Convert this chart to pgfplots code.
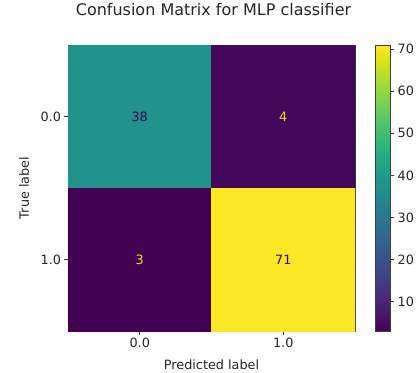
\documentclass[border=0pt]{standalone}
\usepackage{pgfplots}
\pgfplotsset{compat=1.18}
\usepackage{fontspec}
\setmainfont{DejaVu Sans}
\definecolor{vdark}{RGB}{68,1,84}
\definecolor{vyellow}{RGB}{253,231,37}
\definecolor{framegray}{RGB}{60,60,60}
\definecolor{txtgray}{RGB}{38,38,38}
\newcommand{\fs}{\fontsize{12.8}{15}\selectfont}
\begin{document}
\begin{tikzpicture}
\useasboundingbox (0,0) rectangle (417pt,372pt);
\begin{axis}[
  at={(68pt,41pt)}, anchor=south west,
  scale only axis, width=287pt, height=286pt,
  xmin=-0.5, xmax=1.5, ymin=-0.5, ymax=1.5,
  y dir=reverse,
  xtick={0,1}, xticklabels={0.0,1.0},
  ytick={0,1}, yticklabels={0.0,1.0},
  tick align=outside, major tick length=3.5pt,
  xtick pos=bottom, ytick pos=left,
  tick style={framegray, line width=0.8pt},
  axis line style={framegray, line width=0.8pt},
  ticklabel style={font=\fs, text=txtgray},
  xlabel={Predicted label}, ylabel={True label},
  xlabel style={font=\fs, text=txtgray, at={(axis description cs:0.5,0)}, anchor=base, yshift=-38pt},
  ylabel style={font=\fs, text=txtgray, at={(axis description cs:0,0.5)}, anchor=center, yshift=44pt},
  title={Confusion Matrix for MLP classifier},
  title style={font=\fontsize{16}{19}\selectfont, text=txtgray, anchor=base, at={(axis description cs:0.5,1)}, yshift=24pt, xshift=2pt},
  colormap/viridis,
  point meta min=3, point meta max=71,
  colorbar,
  colorbar style={
    at={(parent axis.north east)}, anchor=north west, xshift=12pt,
    width=15pt,
    ytick={10,20,30,40,50,60,70},
    ytick pos=right,
    /pgf/number format/assume math mode=true,
    tick align=outside, major tick length=3.5pt,
    tick style={framegray, line width=0.8pt},
    axis line style={framegray, line width=0.8pt},
    yticklabel style={font=\fs, text=txtgray, inner sep=0pt, xshift=3.5pt},
  },
]
\addplot[matrix plot*, mesh/cols=2, point meta=explicit] table[meta=v] {
x y v
0 0 38
1 0 4
0 1 3
1 1 71
};
\addplot[draw=none, mark=none, nodes near coords, point meta=explicit symbolic,
  nodes near coords style={anchor=center, text=vdark, font=\fs}] table[meta=v] {
x y v
0 0 38
1 1 71
};
\addplot[draw=none, mark=none, nodes near coords, point meta=explicit symbolic,
  nodes near coords style={anchor=center, text=vyellow!80!orange, font=\fs}] table[meta=v] {
x y v
1 0 4
0 1 3
};
\end{axis}
\end{tikzpicture}
\end{document}
